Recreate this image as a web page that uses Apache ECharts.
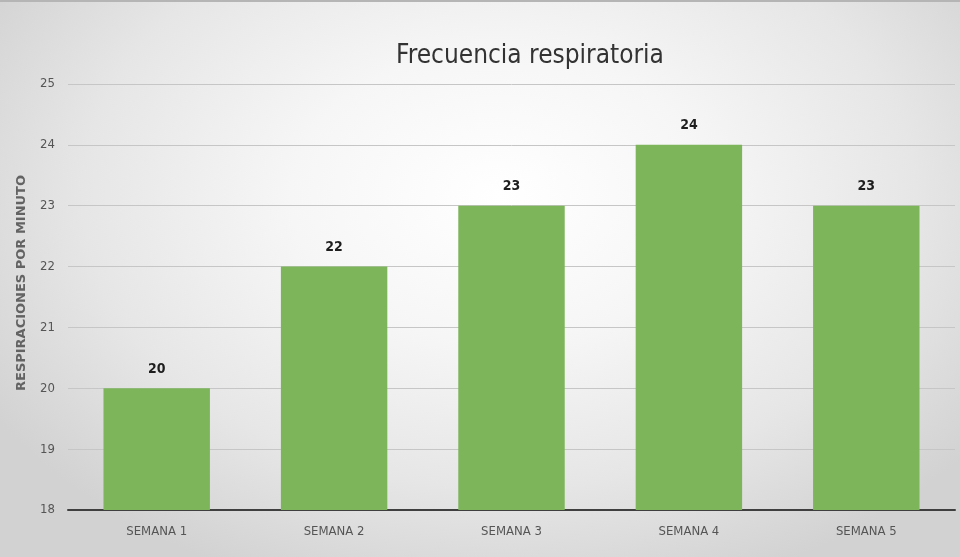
<!DOCTYPE html>
<html>
<head>
<meta charset="utf-8">
<script src="https://cdn.jsdelivr.net/npm/echarts@6/dist/echarts.min.js"></script>
<style>
html, body { margin: 0; padding: 0; background: #fff; }
#chart {
    width: 960px; height: 557px; box-sizing: border-box;
    border-top: 2px solid #b5b5b5;
    background: radial-gradient(ellipse 62% 75% at 52% 35%, #ffffff 0%, #f6f6f6 35%, #e6e6e6 70%, #d2d2d2 100%);
}
</style>
</head>
<body>
<div id="chart"></div>
<script>
var categories = ['SEMANA 1', 'SEMANA 2', 'SEMANA 3', 'SEMANA 4', 'SEMANA 5'];
var values = [20, 22, 23, 24, 23];
var yMin = 18, yMax = 25;

var chart = echarts.init(document.getElementById('chart'));
var narrow = '"Liberation Sans Narrow", "DejaVu Sans Condensed", sans-serif';

chart.setOption({
    backgroundColor: 'transparent',
    title: {
        text: 'Frecuencia respiratoria',
        left: 525, top: 36, textAlign: 'center',
        textStyle: { fontFamily: narrow, fontSize: 26, fontWeight: 'normal', color: '#333' }
    },
    // eje vertical: el nombre se pone a mano para centrarlo como en el original
    graphic: [{
        type: 'text',
        x: 22, y: 281,
        rotation: Math.PI / 2,
        style: {
            text: 'RESPIRACIONES POR MINUTO',
            fontFamily: '"DejaVu Sans", sans-serif', fontSize: 13, fontWeight: 'bold',
            fill: '#636363', align: 'center', verticalAlign: 'middle'
        }
    }],
    grid: { left: 68, right: 5, top: 82, bottom: 47 },
    xAxis: {
        type: 'category',
        data: categories,
        axisLine: { lineStyle: { color: '#3f3f3f', width: 2 } },
        axisTick: { show: false },
        axisLabel: { fontFamily: narrow, fontSize: 13, color: '#555', margin: 15 }
    },
    yAxis: {
        type: 'value',
        min: yMin, max: yMax, interval: 1,
        axisLine: { show: false },
        axisTick: { show: false },
        axisLabel: { fontFamily: narrow, fontSize: 13, color: '#555', margin: 13 },
        splitLine: { lineStyle: { color: '#c6c6c6', width: 1 } }
    },
    series: [{
        type: 'bar',
        data: values,
        barWidth: '60%',
        itemStyle: { color: '#7db55b' },
        label: {
            show: true, position: 'top', distance: 12,
            fontFamily: narrow, fontSize: 14, fontWeight: 'bold', color: '#1e1e1e'
        }
    }]
});
</script>
</body>
</html>
